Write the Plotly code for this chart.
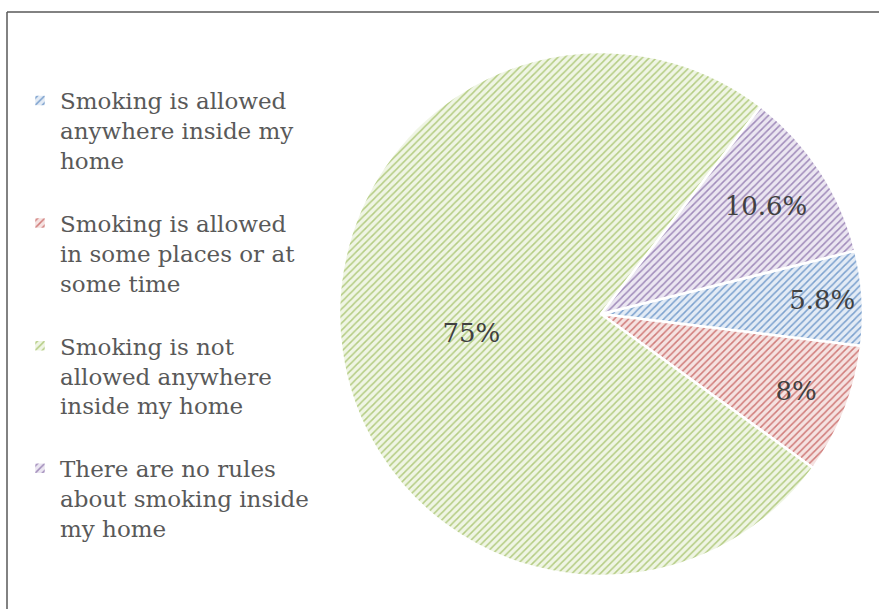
import plotly.graph_objects as go

categories = [
    "Smoking is allowed<br>anywhere inside my<br>home<br> ",
    "Smoking is allowed<br>in some places or at<br>some time<br> ",
    "Smoking is not<br>allowed anywhere<br>inside my home<br> ",
    "There are no rules<br>about smoking inside<br>my home<br> ",
]
values = [5.8, 8, 75, 10.6]
labels_text = ["5.8%", "8%", "75%", "10.6%"]

fg_colors = ["#4F81BD", "#C0504D", "#9BBB59", "#8064A2"]
bg_colors = ["#E3EBF5", "#F5E2E1", "#EFF5E4", "#EBE6F1"]

W, H = 879, 609
cx, cy, r = 601, 314, 262

fig = go.Figure(go.Pie(
    labels=categories,
    values=values,
    text=labels_text,
    textinfo="text",
    textposition="inside",
    insidetextorientation="horizontal",
    sort=False,
    direction="clockwise",
    rotation=76,
    marker=dict(
        colors=bg_colors,
        line=dict(color="white", width=2.5),
        pattern=dict(shape="/", fgcolor=fg_colors, bgcolor=bg_colors,
                     size=5, solidity=0.3, fgopacity=0.7, fillmode="replace"),
    ),
    textfont=dict(family="DejaVu Serif", size=26, color="#404040"),
    domain=dict(x=[(cx - r) / W, (cx + r) / W], y=[(H - cy - r) / H, (H - cy + r) / H]),
    hoverinfo="skip",
))

fig.update_layout(
    width=W, height=H,
    margin=dict(l=0, r=0, t=0, b=0),
    paper_bgcolor="white",
    showlegend=True,
    legend=dict(
        x=20 / W, y=1 - 79 / H, xanchor="left", yanchor="top",
        font=dict(family="DejaVu Serif", size=23, color="#595959"),
        valign="top",
        tracegroupgap=0,
    ),
    shapes=[
        dict(type="line", xref="paper", yref="paper", x0=7 / W, x1=1.0, y0=1 - 12 / H, y1=1 - 12 / H,
             line=dict(color="#595959", width=1.5)),
        dict(type="line", xref="paper", yref="paper", x0=7 / W, x1=7 / W, y0=0, y1=1 - 12 / H,
             line=dict(color="#595959", width=1.5)),
    ],
)

fig.write_html("out.html", config={"displayModeBar": False},
               post_script="document.body.style.margin='0';")
